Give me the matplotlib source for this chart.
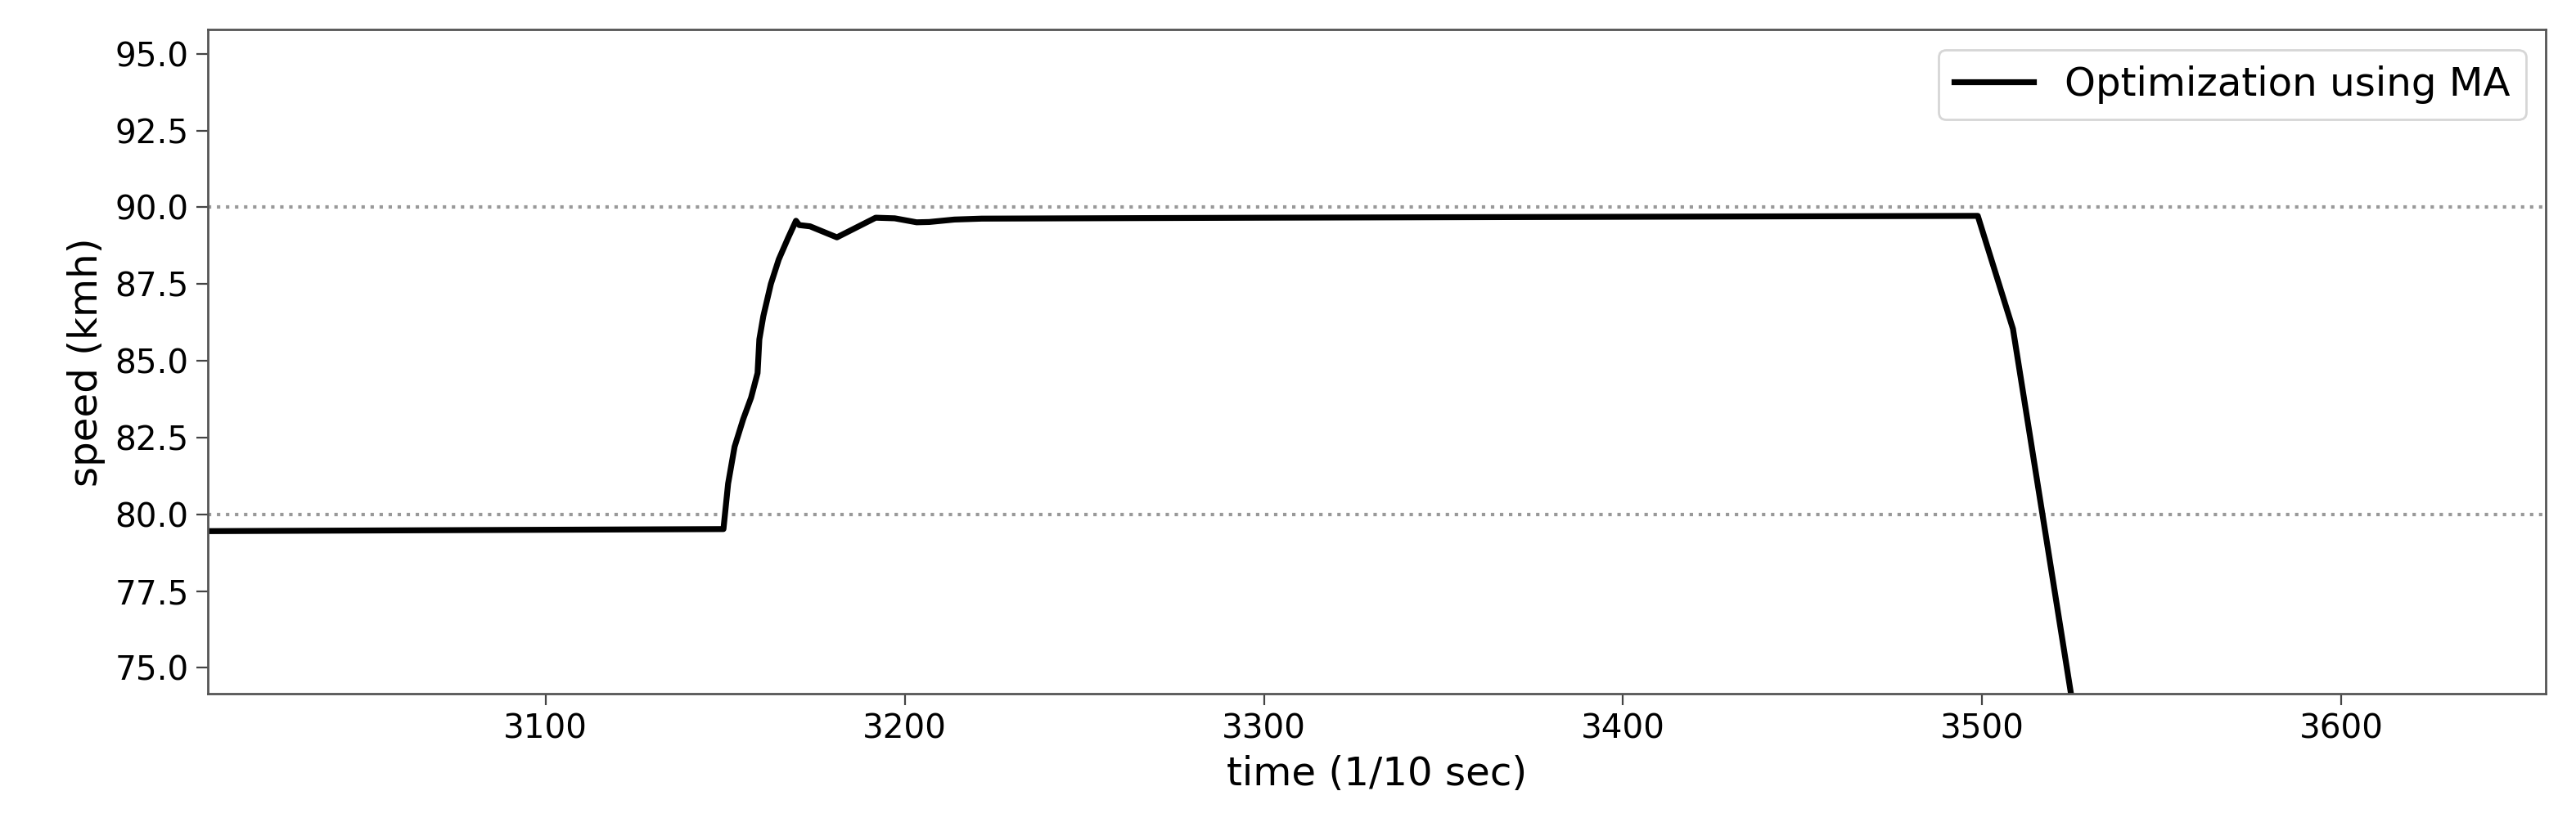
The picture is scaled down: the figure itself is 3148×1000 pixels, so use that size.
import matplotlib
matplotlib.use("Agg")
import matplotlib.pyplot as plt

# speed profile
time = [3000, 3149.5, 3150.8, 3152.6, 3155.0, 3157.2, 3159.0, 3159.5, 3160.6, 3162.7,
        3164.9, 3167.5, 3169.7, 3170.6, 3173.6, 3181.1, 3191.9, 3197.2, 3203.3,
        3206.8, 3213.8, 3221.4, 3300, 3400, 3498.8, 3508.6, 3530]
speed = [79.45, 79.52, 81.0, 82.2, 83.1, 83.8, 84.6, 85.7, 86.45, 87.5,
         88.3, 89.0, 89.56, 89.42, 89.38, 89.02, 89.66, 89.64, 89.51,
         89.52, 89.6, 89.63, 89.66, 89.69, 89.72, 86.04, 70.3]
limits = [80, 90]
x_ticks = [3100, 3200, 3300, 3400, 3500, 3600]
y_ticks = [75.0, 77.5, 80.0, 82.5, 85.0, 87.5, 90.0, 92.5, 95.0]

fig = plt.figure(figsize=(15.74, 5), dpi=200)
ax = fig.add_axes([0.0808, 0.152, 0.9075, 0.8116])

for lim in limits:
    ax.axhline(lim, color='#999999', linestyle=':', linewidth=1.5)

ax.plot(time, speed, color='black', linewidth=2.6, label='Optimization using MA')

ax.set_xlim(3006, 3657)
ax.set_ylim(74.16, 95.78)
ax.set_xticks(x_ticks)
ax.set_yticks(y_ticks)
ax.set_yticklabels([f"{v:.1f}" for v in y_ticks])
ax.tick_params(labelsize=14.6, color='#444444', length=5, width=0.8)

for sp in ax.spines.values():
    sp.set_color('#555555')
    sp.set_linewidth(1.0)

ax.set_xlabel('time (1/10 sec)', fontsize=17.4, labelpad=4)
ax.set_ylabel('speed (kmh)', fontsize=17.4)
ax.legend(loc='upper right', fontsize=17.4)

fig.savefig('out.png', dpi=200)
